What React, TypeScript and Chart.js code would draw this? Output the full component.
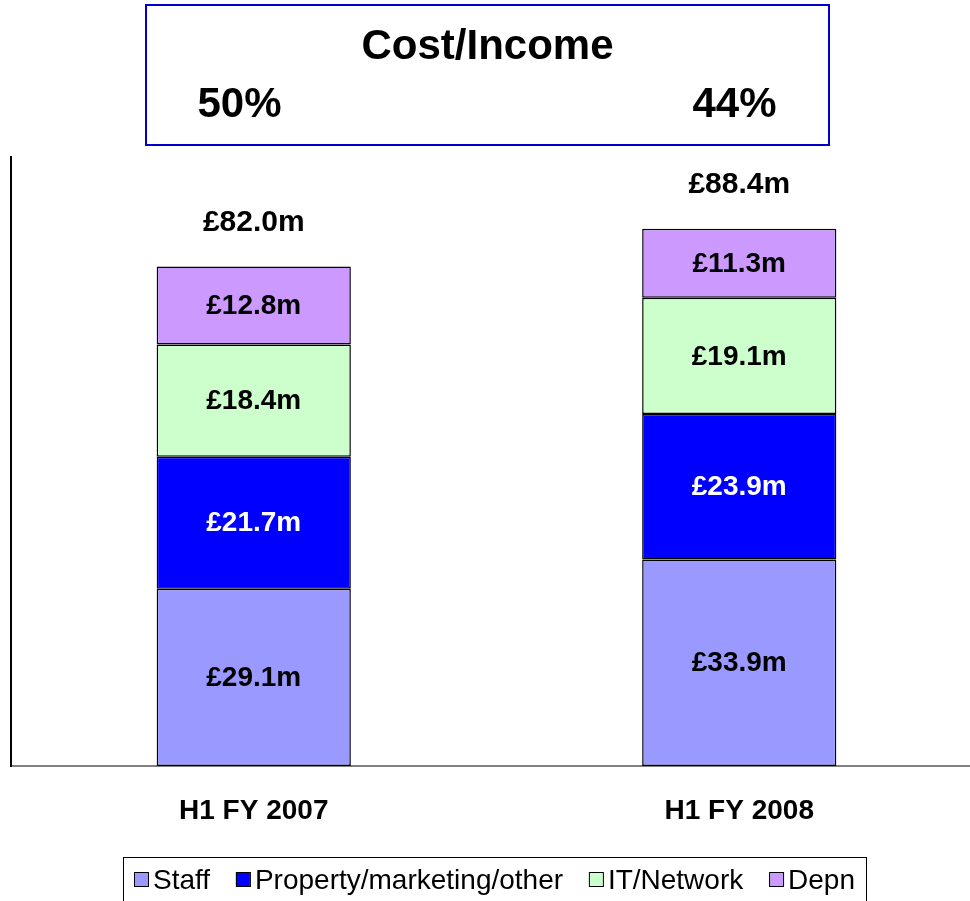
import React, { useEffect, useRef } from 'react';
import { Chart, registerables } from 'chart.js';

Chart.register(...registerables);

const categories = ['H1 FY 2007', 'H1 FY 2008'];
const seriesNames = ['Staff', 'Property/marketing/other', 'IT/Network', 'Depn'];
const staff = [29.1, 33.9];
const property = [21.7, 23.9];
const itNetwork = [18.4, 19.1];
const depn = [12.8, 11.3];
const totals = [82.0, 88.4];
const costIncomeTitle = 'Cost/Income';
const costIncome = ['50%', '44%'];
const seriesColors = ['#9999FF', '#0000FF', '#CCFFCC', '#CC99FF'];
const labelColors = ['#000000', '#FFFFFF', '#000000', '#000000'];

const FONT = '"Liberation Sans", Arial, Helvetica, sans-serif';
const fmt = (v: number) => `£${v.toFixed(1)}m`;

const headerPlugin = {
  id: 'header',
  afterDraw(chart: any) {
    const ctx = chart.ctx;
    ctx.save();
    const bx = 146, by = 5, bw = 683, bh = 140;
    ctx.strokeStyle = '#0000CC';
    ctx.lineWidth = 2;
    ctx.strokeRect(bx, by, bw, bh);
    ctx.fillStyle = '#000';
    ctx.textAlign = 'center';
    ctx.textBaseline = 'alphabetic';
    ctx.font = `bold 42px ${FONT}`;
    ctx.fillText(costIncomeTitle, bx + bw / 2, 59);
    const pctX = [239.5, 734.5];
    costIncome.forEach((t, i) => ctx.fillText(t, pctX[i], 117));
    ctx.restore();
  },
};

const labelsPlugin = {
  id: 'barLabels',
  afterDatasetsDraw(chart: any) {
    const ctx = chart.ctx;
    ctx.save();
    ctx.textAlign = 'center';
    ctx.textBaseline = 'middle';
    ctx.font = `bold 28px ${FONT}`;
    chart.data.datasets.forEach((ds: any, di: number) => {
      const meta = chart.getDatasetMeta(di);
      meta.data.forEach((el: any, i: number) => {
        const cy = (el.y + el.base) / 2;
        ctx.fillStyle = labelColors[di];
        ctx.fillText(fmt(ds.data[i]), el.x, cy + 1);
      });
    });
    const topMeta = chart.getDatasetMeta(chart.data.datasets.length - 1);
    ctx.fillStyle = '#000';
    ctx.textBaseline = 'alphabetic';
    ctx.font = `bold 30px ${FONT}`;
    topMeta.data.forEach((el: any, i: number) => {
      ctx.fillText(fmt(totals[i]), el.x, el.y - 36);
    });
    ctx.restore();
  },
};

const legendPlugin = {
  id: 'boxLegend',
  afterDraw(chart: any) {
    const ctx = chart.ctx;
    ctx.save();
    ctx.strokeStyle = '#000';
    ctx.lineWidth = 1;
    ctx.strokeRect(123.5, 857.5, 743, 80);
    ctx.font = `28px ${FONT}`;
    const marker = 14;
    const gap = 5;
    const widths = seriesNames.map((n) => ctx.measureText(n).width);
    const content = widths.reduce((a, w) => a + marker + gap + w, 0);
    const startX = 134;
    const endX = 855;
    const spacing = (endX - startX - content) / (seriesNames.length - 1);
    let x = startX;
    ctx.textAlign = 'left';
    ctx.textBaseline = 'alphabetic';
    seriesNames.forEach((n, i) => {
      ctx.fillStyle = seriesColors[i];
      ctx.fillRect(x, 872.5, marker, marker);
      ctx.strokeStyle = '#000';
      ctx.lineWidth = 1;
      ctx.strokeRect(x + 0.5, 872.5, marker, marker);
      ctx.fillStyle = '#000';
      ctx.fillText(n, x + marker + gap, 889);
      x += marker + gap + widths[i] + spacing;
    });
    ctx.restore();
  },
};

export default function App() {
  const ref = useRef<HTMLCanvasElement>(null);
  useEffect(() => {
    const series = [staff, property, itNetwork, depn];
    const chart = new Chart(ref.current as HTMLCanvasElement, {
      type: 'bar',
      data: {
        labels: categories,
        datasets: series.map((d, i) => ({
          label: seriesNames[i],
          data: d,
          backgroundColor: seriesColors[i],
          borderColor: '#000000',
          borderWidth: 1.5,
          borderSkipped: false,
          barPercentage: 0.4,
          categoryPercentage: 1,
        })),
      },
      options: {
        responsive: false,
        animation: false,
        devicePixelRatio: 1,
        layout: { padding: { top: 157, left: 11, right: 8, bottom: 0 } },
        plugins: {
          legend: { display: false },
          tooltip: { enabled: false },
          title: { display: false },
        },
        scales: {
          x: {
            stacked: true,
            grid: { display: false, drawTicks: false },
            border: { display: true, color: '#808080', width: 2 },
            ticks: {
              color: '#000',
              padding: 28,
              font: { family: FONT, size: 28, weight: 'bold' },
            },
            afterFit(axis: any) {
              axis.height = 135;
            },
          },
          y: {
            stacked: true,
            min: 0,
            max: 100,
            grid: { display: false, drawTicks: false },
            border: { display: true, color: '#000000', width: 2 },
            ticks: { display: false },
            afterFit(axis: any) {
              axis.width = 0;
            },
          },
        },
      } as any,
      plugins: [headerPlugin, labelsPlugin, legendPlugin],
    });
    return () => chart.destroy();
  }, []);
  return (
    <div
      style={{
        position: 'fixed',
        left: 0,
        top: 0,
        width: 970,
        height: 901,
        overflow: 'hidden',
        background: '#ffffff',
      }}
    >
      <canvas ref={ref} width={990} height={901} style={{ display: 'block', width: 990, height: 901 }} />
    </div>
  );
}
